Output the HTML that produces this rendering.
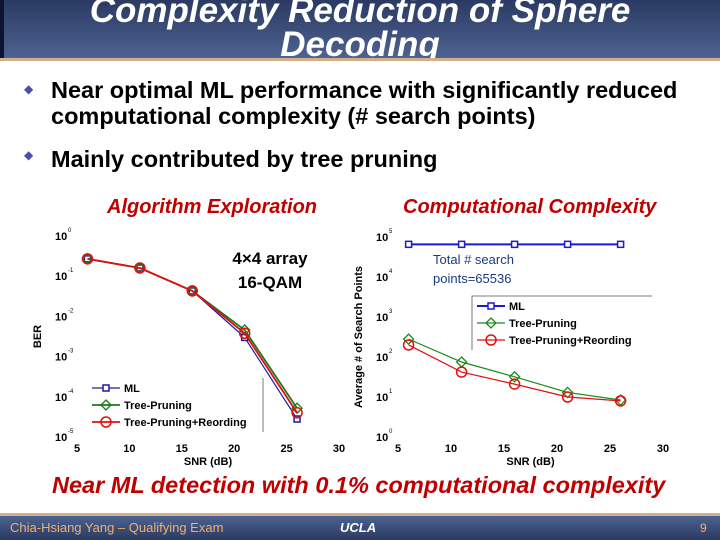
<!DOCTYPE html>
<html><head><meta charset="utf-8"><style>
body{margin:0;width:720px;height:540px;overflow:hidden;background:#fff;font-family:"Liberation Sans",sans-serif;position:relative}
.hdr{position:absolute;left:0;top:0;width:720px;height:58px;background:linear-gradient(#2a3a62,#4d6290);border-left:4px solid #0d1430;box-sizing:border-box;overflow:hidden}
.hdr h1{margin:0;color:#fff;font-style:italic;font-weight:bold;font-size:35px;line-height:34px;text-align:center;position:absolute;top:-6px;left:-4px;width:720px}
.tan{position:absolute;left:0;width:720px;height:3px;background:#d4b08a}
.b{position:absolute;font-weight:bold;font-size:23.5px;line-height:26px;color:#000}
.dia{position:absolute;color:#4a4fb0;font-size:12px}
.ftr{position:absolute;left:0;top:516px;width:720px;height:24px;background:linear-gradient(#4d6290,#2a3a62)}
.sub{position:absolute;color:#c00000;font-style:italic;font-weight:bold;font-size:20px}
</style></head><body>
<div class="hdr"><h1>Complexity Reduction of Sphere<br>Decoding</h1></div>
<div class="tan" style="top:58px"></div>
<div class="dia" style="left:24px;top:82px">◆</div>
<div class="b" style="left:51px;top:77px">Near optimal ML performance with significantly reduced<br>computational complexity (# search points)</div>
<div class="dia" style="left:24px;top:148px">◆</div>
<div class="b" style="left:51px;top:146px">Mainly contributed by tree pruning</div>
<div class="sub" style="left:107px;top:196px">Algorithm Exploration</div>
<div class="sub" style="left:403px;top:196px">Computational Complexity</div>
<svg id="c" width="720" height="540" style="position:absolute;left:0;top:0"></svg>
<div class="sub" style="left:52px;top:472px;font-size:23.5px">Near ML detection with 0.1% computational complexity</div>
<div class="tan" style="top:513px"></div>
<div class="ftr">
<span style="position:absolute;left:10px;top:4px;color:#f0b070;font-size:13px">Chia-Hsiang Yang – Qualifying Exam</span>
<span style="position:absolute;left:340px;top:4px;color:#fff;font-size:13px;font-style:italic;font-weight:bold">UCLA</span>
<span style="position:absolute;left:700px;top:5px;color:#f0b070;font-size:12px">9</span></div>
<script>
const snr=[6,11,16,21,26];
const berML=[0.27,0.16,0.043,0.003,2.8e-5];
const berTP=[0.27,0.16,0.043,0.0046,5.2e-5];
const berTPR=[0.27,0.16,0.043,0.0038,4e-5];
const ptsML=[65536,65536,65536,65536,65536];
const ptsTP=[280,75,32,13,8.4];
const ptsTPR=[200,42,21,10,8];
const xTicks=[5,10,15,20,25,30];
const berExp=[0,-1,-2,-3,-4,-5];
const ptsExp=[5,4,3,2,1,0];
const svg=document.getElementById('c');const NS='http://www.w3.org/2000/svg';
function mk(t,a,p){const e=document.createElementNS(NS,t);for(const k in a)e.setAttribute(k,a[k]);(p||svg).appendChild(e);return e;}
function chart(x0,x1,yTop,yBot,eTop,eBot,exps,series,xlab,ylab,name){
 const g=mk('g',{});
 
 
 const X=v=>x0+(v-5)/25*(x1-x0);
 const Y=v=>yTop+(eTop-Math.log10(v))/(eTop-eBot)*(yBot-yTop);
 xTicks.forEach(t=>{const tx=mk('text',{x:X(t),y:yBot+15,'text-anchor':'middle','font-size':11,'font-weight':'bold'},g);tx.textContent=t;
  
  });
 exps.forEach(e=>{const y=Y(Math.pow(10,e));const tx=mk('text',{x:x0-22,y:y+4,'font-size':11,'font-weight':'bold'},g);tx.textContent='10';
  
  
  const s=mk('text',{x:x0-9,y:y-4,'font-size':6},g);s.textContent=e;});
 const xl=mk('text',{x:(x0+x1)/2,y:yBot+28,'text-anchor':'middle','font-size':11,'font-weight':'bold'},g);xl.textContent=xlab;
 
 
 const yl=mk('text',{x:0,y:0,'text-anchor':'middle','font-size':11,'font-weight':'bold',transform:`translate(${x0-36},${(yTop+yBot)/2}) rotate(-90)`},g);yl.textContent=ylab;
 
 
 series.forEach(s=>{
  const pl=mk('polyline',{points:snr.map((v,i)=>X(v)+','+Y(s.d[i])).join(' '),fill:'none',stroke:s.c,'stroke-width':s.w},g);
  
  
  snr.forEach((v,i)=>marker(g,s.m,X(v),Y(s.d[i]),s.c,s.n));
 });
 return g;
}
function marker(g,m,x,y,c,n){let e;
 if(m=='s')e=mk('rect',{x:x-3,y:y-3,width:6,height:6,fill:'#fff',stroke:c,'stroke-width':1.5},g);
 else if(m=='d')e=mk('polygon',{points:`${x},${y-5} ${x+5},${y} ${x},${y+5} ${x-5},${y}`,fill:'none',stroke:c,'stroke-width':1.3},g);
 else e=mk('circle',{cx:x,cy:y,r:5,fill:'none',stroke:c,'stroke-width':1.5},g);
 
 }
chart(77,339,236,437,0,-5,berExp,[{d:berML,c:'#1a1aa0',m:'s',w:1.2,n:'ml'},{d:berTP,c:'#1a7a1a',m:'d',w:1.8,n:'tree-pruning'},{d:berTPR,c:'#e01010',m:'o',w:1.8,n:'tree-pruning-reordering'}],'SNR (dB)','BER','ber-chart');
chart(398,663,237,437,5,0,ptsExp,[{d:ptsML,c:'#1a1ad0',m:'s',w:2,n:'ml'},{d:ptsTP,c:'#1a8a1a',m:'d',w:1.2,n:'tree-pruning'},{d:ptsTPR,c:'#e01010',m:'o',w:1.2,n:'tree-pruning-reordering'}],'SNR (dB)','Average # of Search Points','complexity-chart');
function legend(x,y,items,name){const g=mk('g',{});
 
 
 items.forEach((it,i)=>{const yy=y+i*17;mk('line',{x1:x,y1:yy,x2:x+28,y2:yy,stroke:it[1],'stroke-width':it[3]},g);marker(g,it[2],x+14,yy,it[1],'legend');
  const t=mk('text',{x:x+32,y:yy+4,'font-size':11,'font-weight':'bold'},g);t.textContent=it[0];
  
  });}
mk('line',{x1:263,y1:378,x2:263,y2:432,stroke:'#555','stroke-width':0.8});
legend(92,388,[['ML','#1a1aa0','s',1.2],['Tree-Pruning','#1a7a1a','d',1.8],['Tree-Pruning+Reording','#e01010','o',1.8]],'ber-legend');
mk('polyline',{points:'472,350 472,296 652,296',fill:'none',stroke:'#555','stroke-width':0.8});
legend(477,306,[['ML','#1a1ad0','s',2],['Tree-Pruning','#1a8a1a','d',1.2],['Tree-Pruning+Reording','#e01010','o',1.2]],'complexity-legend');
const a=mk('text',{x:270,y:264,'text-anchor':'middle','font-size':17,'font-weight':'bold'});a.textContent='4×4 array';


const b=mk('text',{x:270,y:288,'text-anchor':'middle','font-size':17,'font-weight':'bold'});b.textContent='16-QAM';


const t1=mk('text',{x:433,y:264,'font-size':13,fill:'#1a3a80'});t1.textContent='Total # search';


const t2=mk('text',{x:433,y:283,'font-size':13,fill:'#1a3a80'});t2.textContent='points=65536';


</script>
</body></html>
